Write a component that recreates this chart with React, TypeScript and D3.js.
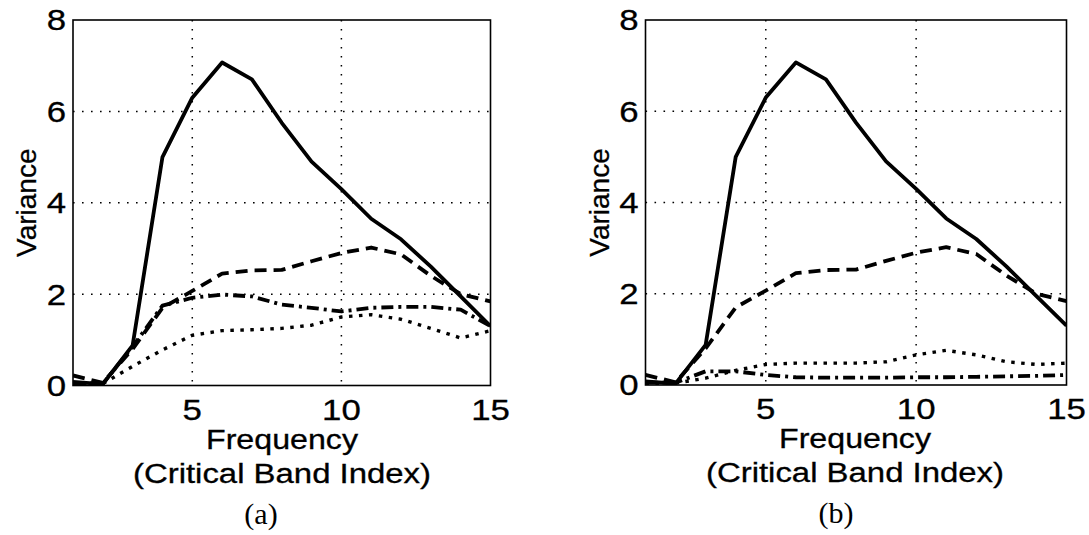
import React from "react";
import * as d3 from "d3";

const bands = [1, 2, 3, 4, 5, 6, 7, 8, 9, 10, 11, 12, 13, 14, 15];
const xTicks = [5, 10, 15];
const yTicks = [0, 2, 4, 6, 8];
const gridX = [5, 10];
const gridY = [2, 4, 6];

const solidA = [0.08, 0.03, 0.88, 5.0, 6.3, 7.07, 6.7, 5.75, 4.9, 4.3, 3.65, 3.2, 2.6, 1.95, 1.3];
const dashedA = [0.22, 0.06, 0.8, 1.7, 2.07, 2.45, 2.52, 2.53, 2.72, 2.9, 3.02, 2.87, 2.4, 2.0, 1.84];
const dashDotA = [0.05, 0.04, 0.85, 1.75, 1.92, 1.99, 1.95, 1.77, 1.7, 1.62, 1.7, 1.72, 1.72, 1.66, 1.3];
const dottedA = [0.04, 0.04, 0.42, 0.78, 1.1, 1.2, 1.22, 1.25, 1.32, 1.5, 1.55, 1.45, 1.25, 1.04, 1.2];

const solidB = [0.08, 0.03, 0.88, 5.0, 6.3, 7.07, 6.7, 5.75, 4.9, 4.3, 3.65, 3.2, 2.6, 1.95, 1.3];
const dashedB = [0.22, 0.06, 0.8, 1.7, 2.07, 2.45, 2.52, 2.53, 2.72, 2.9, 3.02, 2.87, 2.4, 2.0, 1.84];
const dashDotB = [0.05, 0.05, 0.3, 0.3, 0.22, 0.17, 0.16, 0.16, 0.16, 0.17, 0.17, 0.18, 0.19, 0.2, 0.22];
const dottedB = [0.04, 0.04, 0.15, 0.32, 0.45, 0.48, 0.48, 0.48, 0.51, 0.66, 0.76, 0.66, 0.51, 0.45, 0.48];

const panelLabels = ["(a)", "(b)"];
const yLabel = "Variance";
const xLabel1 = "Frequency";
const xLabel2 = "(Critical Band Index)";

const SANS = "'Liberation Sans', Arial, Helvetica, sans-serif";
const SERIF = "'Liberation Serif', 'Times New Roman', serif";

type PanelProps = {
  left: number;
  right: number;
  top: number;
  bottom: number;
  series: number[][];
  label: string;
  labelX: number;
  titleX: number;
};

const styles = [
  { dash: "none", width: 3.8 },
  { dash: "12,7", width: 3.8 },
  { dash: "12,5,3,5", width: 3.8 },
  { dash: "3.5,6.5", width: 3.4 },
];

const textInk = { stroke: "#000", strokeWidth: 0.3 };

function Panel({ left, right, top, bottom, series, label, labelX, titleX }: PanelProps) {
  const x = d3.scaleLinear().domain([1, 15]).range([left, right]);
  const y = d3.scaleLinear().domain([0, 8]).range([bottom, top]);
  const line = d3
    .line<number>()
    .x((_, i) => x(bands[i]))
    .y((d) => y(d));
  const cy = (top + bottom) / 2;
  const cid = "clip" + label.replace(/\W/g, "");
  return (
    <g>
      {gridX.map((v) => (
        <line key={"gx" + v} x1={x(v)} x2={x(v)} y1={top} y2={bottom} stroke="#000" strokeWidth={1.5} strokeDasharray="1.6,7.4" />
      ))}
      {gridY.map((v) => (
        <line key={"gy" + v} x1={left} x2={right} y1={y(v)} y2={y(v)} stroke="#000" strokeWidth={1.5} strokeDasharray="1.6,7.4" />
      ))}
      <defs>
        <clipPath id={cid}>
          <rect x={left} y={top} width={right - left} height={bottom - top} />
        </clipPath>
      </defs>
      <g clipPath={`url(#${cid})`}>
        {series.map((s, i) => (
          <path
            key={i}
            d={line(s) || ""}
            fill="none"
            stroke="#000"
            strokeWidth={styles[i].width}
            strokeDasharray={styles[i].dash}
            strokeLinejoin="round"
          />
        ))}
      </g>
      <rect x={left} y={top} width={right - left} height={bottom - top} fill="none" stroke="#000" strokeWidth={1.6} />
      {yTicks.map((v) => (
        <text
          key={"yt" + v}
          transform={`translate(${left - 7},${y(v)}) scale(1.2,1)`}
          dy="0.36em"
          textAnchor="end"
          fontFamily={SANS}
          fontSize={29}
          {...textInk}
        >
          {v}
        </text>
      ))}
      {xTicks.map((v) => (
        <text
          key={"xt" + v}
          transform={`translate(${x(v)},${bottom + 34}) scale(1.2,1)`}
          textAnchor="middle"
          fontFamily={SANS}
          fontSize={29}
          {...textInk}
        >
          {v}
        </text>
      ))}
      <text transform={`translate(${left - 37},${cy}) rotate(-90)`} textAnchor="middle" fontFamily={SANS} fontSize={28} {...textInk}>
        {yLabel}
      </text>
      <text
        x={titleX - 76}
        y={bottom + 63}
        textLength={152}
        lengthAdjust="spacingAndGlyphs"
        fontFamily={SANS}
        fontSize={27}
        {...textInk}
      >
        {xLabel1}
      </text>
      <text
        x={titleX - 149}
        y={bottom + 97}
        textLength={298}
        lengthAdjust="spacingAndGlyphs"
        fontFamily={SANS}
        fontSize={27}
        {...textInk}
      >
        {xLabel2}
      </text>
      <text x={labelX} y={bottom + 138} textAnchor="middle" fontFamily={SERIF} fontSize={30}>
        {label}
      </text>
    </g>
  );
}

export default function App() {
  return (
    <svg width={1089} height={535} style={{ position: "absolute", left: 0, top: 0, background: "#fff" }}>
      <rect x={0} y={0} width={1089} height={535} fill="#fff" />
      <Panel left={73} right={490.5} top={20} bottom={385.5} series={[solidA, dashedA, dashDotA, dottedA]} label={panelLabels[0]} labelX={261} titleX={282} />
      <Panel left={645.5} right={1066.5} top={20} bottom={385} series={[solidB, dashedB, dashDotB, dottedB]} label={panelLabels[1]} labelX={836} titleX={855} />
    </svg>
  );
}
